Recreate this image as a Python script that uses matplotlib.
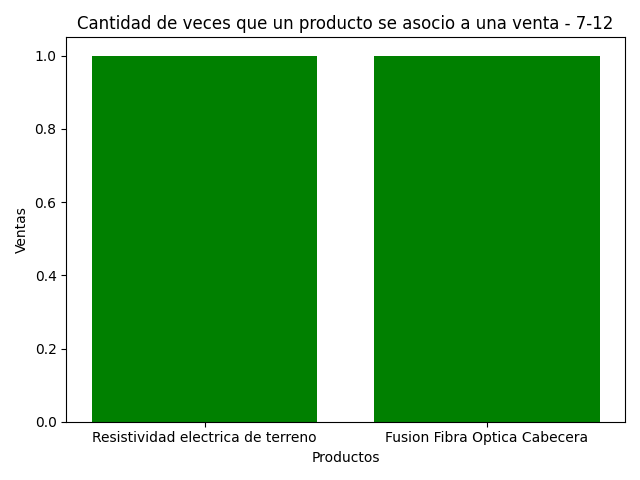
import matplotlib
matplotlib.use('Agg')
import matplotlib.pyplot as plt

productos = ['Resistividad electrica de terreno', 'Fusion Fibra Optica Cabecera']
ventas = [1, 1]

fig = plt.figure(figsize=(6.4, 4.8), dpi=100)
plt.bar(productos, ventas, color='green')
plt.title('Cantidad de veces que un producto se asocio a una venta - 7-12')
plt.xlabel('Productos')
plt.ylabel('Ventas')
plt.tight_layout()
plt.savefig('out.png')
